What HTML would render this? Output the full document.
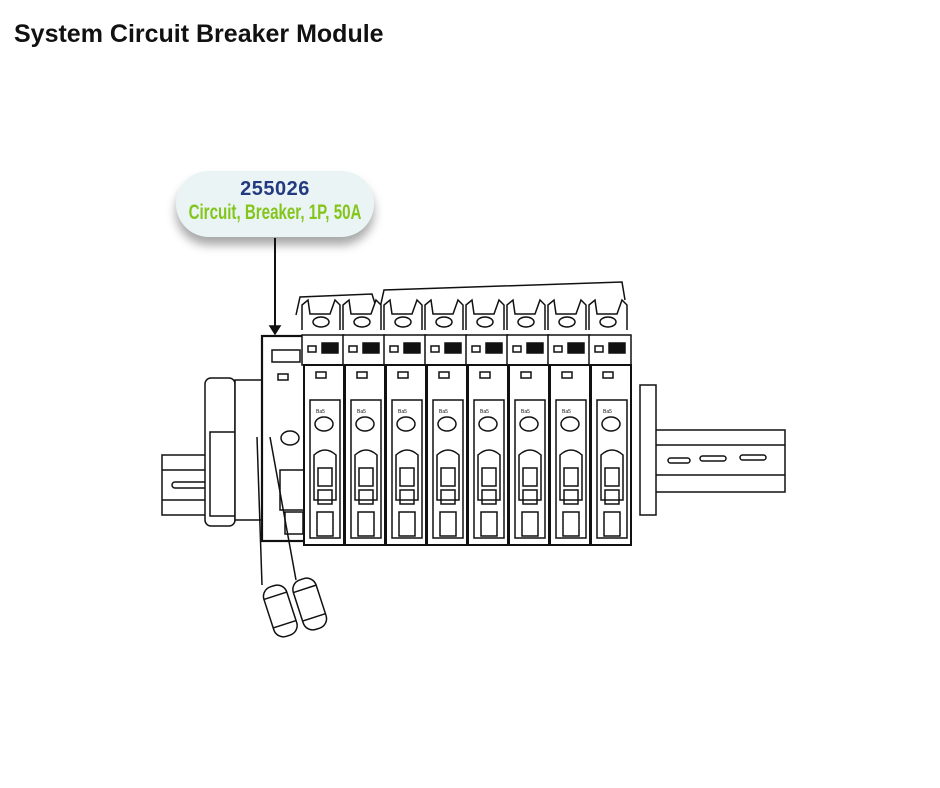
<!DOCTYPE html>
<html><head><style>
body{margin:0;width:940px;height:788px;background:#fff;overflow:hidden;position:relative;font-family:"Liberation Sans",sans-serif}
h1{position:absolute;left:14px;top:20px;margin:0;font-size:25px;font-weight:bold;color:#111}
.call{position:absolute;left:176px;top:171px;width:198px;height:66px;border-radius:33px;background:#eaf4f5;box-shadow:0 8px 10px rgba(0,0,0,.35);text-align:center}
.n{font-size:20px;font-weight:bold;color:#233a80;margin-top:7px;letter-spacing:.5px}
.d{font-size:21px;font-weight:bold;color:#84c51c;font-family:"Liberation Sans Narrow","Liberation Sans",sans-serif;transform:scaleX(.72);white-space:nowrap;margin-top:0px;margin-left:-40px;margin-right:-40px}
svg{position:absolute;left:0;top:0}
</style></head><body>
<h1>System Circuit Breaker Module</h1>
<div class="call"><div class="n">255026</div><div class="d">Circuit, Breaker, 1P, 50A</div></div>
<svg width="940" height="788" fill="none" stroke="#111" stroke-width="1.5">
<line x1="275" y1="238" x2="275" y2="330" stroke-width="2"/>
<polygon points="270,326 280,326 275,334" fill="#111"/>
<rect x="162" y="455" width="75" height="60" fill="#fff"/>
<line x1="162" y1="470" x2="237" y2="470"/><line x1="162" y1="500" x2="237" y2="500"/>
<rect x="172" y="482" width="40" height="6" rx="3"/>
<rect x="645" y="430" width="140" height="62" fill="#fff"/>
<line x1="645" y1="445" x2="785" y2="445"/><line x1="645" y1="475" x2="785" y2="475"/>
<rect x="668" y="458" width="22" height="5" rx="2.5"/><rect x="700" y="456" width="26" height="5" rx="2.5"/><rect x="740" y="455" width="26" height="5" rx="2.5"/>
<rect x="205" y="378" width="30" height="148" rx="6" fill="#fff"/>
<rect x="210" y="432" width="25" height="84" fill="#fff"/>
<rect x="235" y="380" width="30" height="140" fill="#fff"/>
<rect x="640" y="385" width="16" height="130" fill="#fff"/>
<polyline points="296,315 300,297 372,294 377,310"/>
<polyline points="380,308 384,290 622,282 625,300"/>
<rect x="262" y="336" width="46" height="205" fill="#fff" stroke-width="2.2"/>
<rect x="272" y="350" width="28" height="12"/><rect x="278" y="374" width="10" height="6"/>
<ellipse cx="290" cy="438" rx="9" ry="7"/>
<rect x="280" y="470" width="24" height="40"/><rect x="285" y="512" width="18" height="22"/>
<g id="m">
<path d="M302 330 L302 305 L308 300 L310 314 L330 314 L335 300 L340 305 L340 330" fill="#fff"/>
<ellipse cx="321" cy="322" rx="8" ry="5"/>
<rect x="302" y="335" width="42" height="30" fill="#fff"/>
<rect x="308" y="346" width="8" height="6"/><rect x="322" y="343" width="16" height="10" fill="#111"/>
<rect x="304" y="365" width="40" height="180" fill="#fff" stroke-width="2"/>
<rect x="316" y="372" width="10" height="6"/>
<path d="M310 400 L340 400 L340 538 L310 538 Z"/>
<text x="316" y="413" font-size="5" fill="#111" stroke="none">Ba5</text>
<ellipse cx="324" cy="424" rx="9" ry="7"/>
<path d="M314 455 Q325 445 336 455 L336 500 L314 500 Z"/>
<rect x="318" y="468" width="14" height="18"/><rect x="318" y="490" width="14" height="14"/>
<rect x="317" y="512" width="16" height="24"/>
</g>
<use href="#m" x="41"/><use href="#m" x="82"/><use href="#m" x="123"/><use href="#m" x="164"/><use href="#m" x="205"/><use href="#m" x="246"/><use href="#m" x="287"/>
<line x1="257" y1="437" x2="262" y2="585"/><line x1="270" y1="437" x2="296" y2="580"/>
<g transform="rotate(-18 280 610)"><rect x="268" y="585" width="24" height="52" rx="10" fill="#fff"/><line x1="268" y1="595" x2="292" y2="595"/><line x1="268" y1="625" x2="292" y2="625"/></g>
<g transform="rotate(-18 310 605)"><rect x="298" y="578" width="24" height="52" rx="10" fill="#fff"/><line x1="298" y1="588" x2="322" y2="588"/><line x1="298" y1="618" x2="322" y2="618"/></g>
</svg>
</body></html>
